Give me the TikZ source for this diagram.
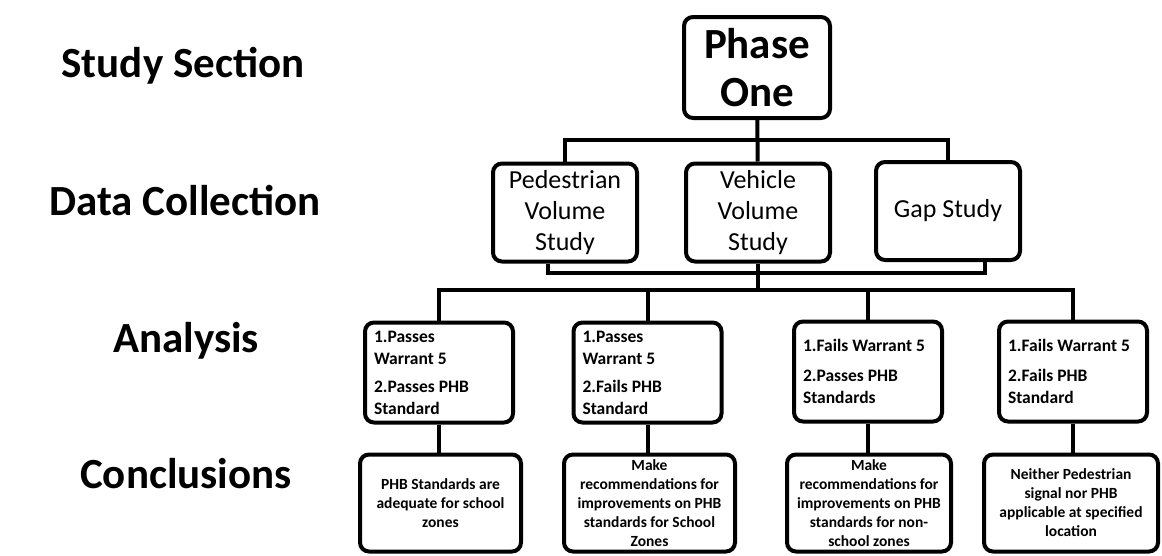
\documentclass[tikz,border=0pt]{standalone}
\usepackage{fontspec}
\setmainfont{Carlito}
\begin{document}
\begin{tikzpicture}
[x=1pt,y=-1pt,
blackline/.style={black,line width=4pt},
roundbox/.style={draw,black,line width=4pt,rounded corners=9pt,fill=white,inner sep=0pt},
phasebox/.style={roundbox,minimum width=146pt,minimum height=101pt,align=center,font=\bfseries\fontsize{43}{48}\selectfont},
databox/.style={roundbox,minimum width=144pt,minimum height=98pt,align=center,font=\fontsize{26}{31}\selectfont},
analysisbox/.style={roundbox,minimum height=100pt,text width=130pt,inner xsep=9pt,align=flush left,font=\bfseries\fontsize{17.5}{22}\selectfont},
conclbox/.style={roundbox,minimum height=97pt,align=center,font=\bfseries\fontsize{15.5}{19}\selectfont},
sectionlabel/.style={anchor=base,font=\bfseries\fontsize{43}{48}\selectfont}]

\useasboundingbox (0,0) rectangle (1162,555);

% section labels
\node[sectionlabel] (study) at (183,77) {Study Section};
\node[sectionlabel] (data) at (185,215) {Data Collection};
\node[sectionlabel] (analysis) at (186,352) {Analysis};
\node[sectionlabel] (concl) at (186,488) {Conclusions};

% phase one
\node[phasebox] (phase) at (757,67.5) {Phase\\One};

% data collection
\node[databox] (ped) at (565,212.5) {Pedestrian\\Volume\\Study};
\node[databox] (veh) at (758,212.5) {Vehicle\\Volume\\Study};
\node[databox] (gap) at (948,211) {Gap Study};

% analysis
\node[analysisbox] (anA) at (439,372.5) {1.Passes\\Warrant 5\\[6pt]2.Passes PHB\\Standard};
\node[analysisbox] (anB) at (647.5,372.5) {1.Passes\\Warrant 5\\[6pt]2.Fails PHB\\Standard};
\node[analysisbox] (anC) at (868,371.5) {1.Fails Warrant 5\\[8pt]2.Passes PHB\\Standards};
\node[analysisbox] (anD) at (1073,371.5) {1.Fails Warrant 5\\[8pt]2.Fails PHB\\Standard};

% conclusions
\node[conclbox,minimum width=161pt] (conA) at (440.5,503) {PHB Standards are\\adequate for school\\zones};
\node[conclbox,minimum width=171pt] (conB) at (649.5,503) {Make\\recommendations for\\improvements on PHB\\standards for School\\Zones};
\node[conclbox,minimum width=164pt] (conC) at (869,503) {Make\\recommendations for\\improvements on PHB\\standards for non-\\school zones};
\node[conclbox,minimum width=174pt] (conD) at (1071,503) {Neither Pedestrian\\signal nor PHB\\applicable at specified\\location};

% bus lines
\coordinate (topbus) at (757,140);
\coordinate (midbus) at (0,273);
\coordinate (lowbus) at (0,290);

% phase to data
\draw[blackline] (phase) -- (veh);
\draw[blackline] (ped.north) -- (ped.north |- topbus) -- (gap.north |- topbus) -- (gap.north);

% data to analysis
\draw[blackline] ([xshift=-17pt]ped.south) -- ([xshift=-17pt]ped.south |- midbus) -- ([xshift=37pt]gap.south |- midbus) -- ([xshift=37pt]gap.south);
\draw[blackline] (veh.south) -- (veh.south |- lowbus);
\draw[blackline] (anA.north) -- (anA.north |- lowbus) -- (anD.north |- lowbus) -- (anD.north);
\draw[blackline] (anB.north) -- (anB.north |- lowbus);
\draw[blackline] (anC.north) -- (anC.north |- lowbus);

% analysis to conclusions
\draw[blackline] (anA) -- (anA |- conA.north);
\draw[blackline] (anB) -- (anB |- conB.north);
\draw[blackline] (anC) -- (anC |- conC.north);
\draw[blackline] (anD) -- (anD |- conD.north);

\end{tikzpicture}
\end{document}
